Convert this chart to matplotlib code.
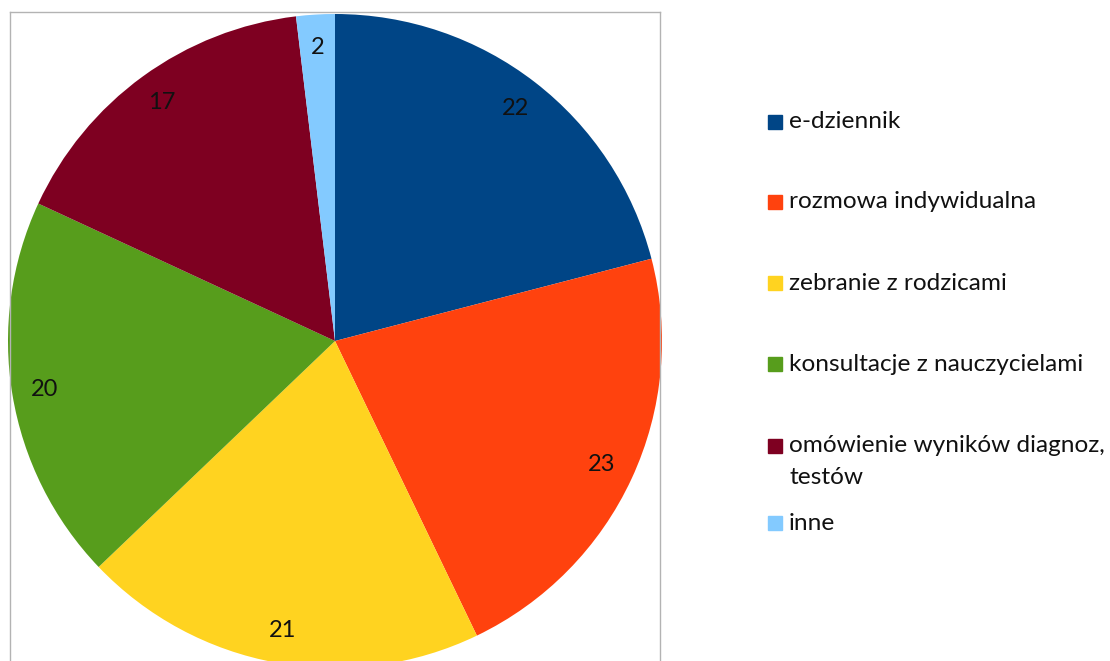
import matplotlib.pyplot as plt
from matplotlib.patches import Rectangle

categories = ['e-dziennik', 'rozmowa indywidualna', 'zebranie z rodzicami',
              'konsultacje z nauczycielami', 'omówienie wyników diagnoz,\ntestów', 'inne']
values = [22, 23, 21, 20, 17, 2]
colors = ['#004586', '#ff420e', '#ffd320', '#579d1c', '#7e0021', '#83caff']

W, H = 1110, 661
plt.rcParams['font.family'] = ['Lato', 'DejaVu Sans']
fig = plt.figure(figsize=(W / 100, H / 100), dpi=100)

# axes in pixel units, bottom edge hangs below the picture like in the source
ax = fig.add_axes([10 / W, -30 / H, 650 / W, 679 / H])
total = sum(values)
ax.pie(values, colors=colors, startangle=90, counterclock=False,
       center=(335, 320), radius=327, frame=True,
       wedgeprops=dict(linewidth=0),
       autopct=lambda p: '%d' % round(p * total / 100), pctdistance=0.9,
       textprops=dict(fontsize=17, color='#111111'))
ax.set_xlim(10, 660)
ax.set_ylim(-30, 649)
ax.set_xticks([])
ax.set_yticks([])
for s in ax.spines.values():
    s.set_color('#b3b3b3')
    s.set_linewidth(1)

# legend drawn by hand, first line of every entry next to its square
row_y = [122, 202, 283, 364, 446, 523]
line_gap = 32
for lab, col, y in zip(categories, colors, row_y):
    fig.patches.append(Rectangle((768 / W, 1 - (y + 7) / H), 14 / W, 14 / H,
                                 transform=fig.transFigure, color=col))
    for k, line in enumerate(lab.split('\n')):
        fig.text(789 / W, 1 - (y + k * line_gap) / H, line, fontsize=17.6,
                 va='center', ha='left', color='#111111')

plt.savefig('out.png', dpi=100)
